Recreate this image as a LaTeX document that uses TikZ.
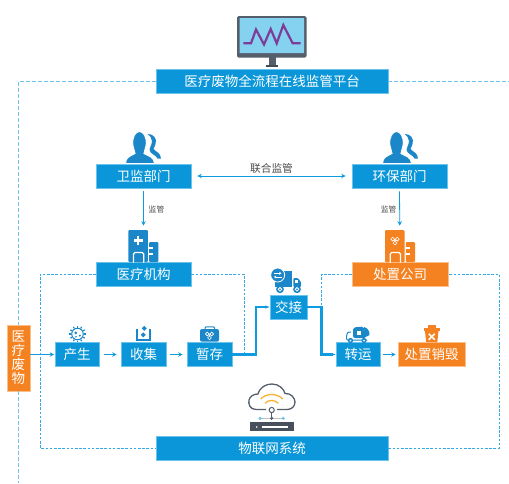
\documentclass[tikz,border=0pt]{standalone}
\usepackage{fontspec}
\setmainfont{Noto Sans CJK SC}
\usetikzlibrary{arrows.meta}
\definecolor{bluebox}{HTML}{0A96D8}
\definecolor{blueedge}{HTML}{6CC3EC}
\definecolor{orangebox}{HTML}{F58220}
\definecolor{orangeedge}{HTML}{FBBF8C}
\definecolor{iconblue}{HTML}{1B87C9}
\definecolor{linkblue}{HTML}{0F9BE0}
\definecolor{dashblue}{HTML}{6CC3EC}
\definecolor{slate}{HTML}{555E6B}
\definecolor{screenblue}{HTML}{84D2F0}
\definecolor{plotpurple}{HTML}{7D3C98}
\definecolor{wifi}{HTML}{F9B233}
\tikzset{
  bluen/.style={draw=blueedge,fill=bluebox,line width=.6pt,text=white,font=\fontsize{13.5}{14}\selectfont,inner sep=0pt,anchor=center},
  orangen/.style={bluen,draw=orangeedge,fill=orangebox},
  link/.style={draw=linkblue,line width=.8pt,-{Stealth[length=4.5pt,width=4.5pt]}},
  duallink/.style={draw=linkblue,line width=.8pt,{Stealth[length=4.5pt,width=4.5pt]}-{Stealth[length=4.5pt,width=4.5pt]}},
  thicklink/.style={draw=linkblue,line width=2.2pt,-{Stealth[length=4.5pt,width=3pt]}},
  dashin/.style={draw=linkblue!85,line width=.7pt,dash pattern=on 2.6pt off 1.6pt},
  dashout/.style={draw=dashblue,line width=1pt,dash pattern=on 4pt off 2pt},
  lab/.style={text=black!70,inner sep=0pt}
}
\newcommand{\personicon}[2]{\begin{scope}[shift={(#1,#2)}]
  \fill[iconblue] (22,2) .. controls (28,1.5) and (32,7) .. (30,12) .. controls (29.5,15) and (28,16) .. (28,17) .. controls (30,19.5) and (35.5,21) .. (35.5,26.5) -- (32,26.5) .. controls (31,23) and (24,22) .. (24,17.5) .. controls (24,15) and (26.5,13) .. (26.5,9) .. controls (26.5,6) and (24.5,4) .. (22,2) -- cycle;
  \path[fill=iconblue,draw=white,line width=1pt] (0,31.5) .. controls (0,25) and (5,24) .. (9.5,21.5) .. controls (9,19) and (8,16) .. (7.3,13) .. controls (6.5,5) and (10,-.5) .. (14,-.5) .. controls (18,-.5) and (21.5,5) .. (20.7,13) .. controls (20,16) and (19,19) .. (18.5,21.5) .. controls (23,24) and (29,25) .. (29,31.5) -- cycle;
\end{scope}}
\newcommand{\buildingicon}[3]{\begin{scope}[shift={(#1,#2)}]
  \fill[#3,rounded corners=1pt] (0,0) rectangle (19.5,32);
  \fill[#3,rounded corners=1pt] (20.8,12) rectangle (30,32);
  \draw[white,line width=1.3pt,rounded corners=1.5pt] (5.2,32.5) -- (5.2,22.5) -- (15.4,22.5) -- (15.4,32.5);
  \fill[white] (25,17.3) rectangle (20.8,18.8);
  \fill[white] (25,23.3) rectangle (20.8,24.8);
\end{scope}}
\newcommand{\biosym}[3]{\begin{scope}[shift={(#1,#2)}]
  \foreach \a in {90,210,330}{\draw[#3,line width=.6pt] (\a:2.6) circle (1.9);}
  \fill[#3] (0,0) circle (.9);
\end{scope}}
\begin{document}
\begin{tikzpicture}[x=1pt,y=-1pt]
\useasboundingbox (0,0) rectangle (509,483);
\clip (0,0) rectangle (509,483);
% coordinates
\coordinate (outerright) at (509,81);
\coordinate (outerbottom) at (18.5,483);
\coordinate (leftturn) at (40,448);
\coordinate (rightturn) at (499,448);
\coordinate (hospend) at (244,354.5);
\coordinate (compend) at (321.5,307);
\coordinate (storeturn) at (256,354.5);
\coordinate (swapturn) at (321.5,307);
% nodes
\node[bluen,minimum width=232pt,minimum height=24pt] (platform) at (272,81) {医疗废物全流程在线监管平台};
\node[bluen,minimum width=95pt,minimum height=24pt] (health) at (143.5,176) {卫监部门};
\node[bluen,minimum width=95pt,minimum height=24pt] (env) at (399.5,176) {环保部门};
\node[bluen,minimum width=95pt,minimum height=24pt] (hospital) at (143.5,274) {医疗机构};
\node[orangen,minimum width=96pt,minimum height=24pt] (company) at (400,274) {处置公司};
\node[orangen,minimum width=23pt,minimum height=66pt,align=center,font=\fontsize{13.5}{14}\selectfont] (waste) at (18.5,358) {医\\疗\\废\\物};
\node[bluen,minimum width=44pt,minimum height=23.5pt] (produce) at (77,354.5) {产生};
\node[bluen,minimum width=45pt,minimum height=23.5pt] (collect) at (143.5,354.5) {收集};
\node[bluen,minimum width=45pt,minimum height=23.5pt] (store) at (209.5,354.5) {暂存};
\node[bluen,minimum width=37pt,minimum height=24pt] (swap) at (288.5,307) {交接};
\node[bluen,minimum width=44pt,minimum height=23.5pt] (ship) at (358,354.5) {转运};
\node[orangen,minimum width=67pt,minimum height=23.5pt] (destroy) at (431.5,354.5) {处置销毁};
\node[bluen,minimum width=232pt,minimum height=24pt] (iot) at (272,448) {物联网系统};
% outer dashed
\draw[dashout] (platform.west) -| (waste.north);
\draw[dashout] (waste.south) -- (outerbottom);
\draw[dashout] (platform.east) -- (outerright);
% inner dashed
\draw[dashin] (hospital.west) -| (leftturn) -- (iot.west);
\draw[dashin] (hospital.east) -| (hospend);
\draw[dashin] (company.west) -| (compend);
\draw[dashin] (iot.east) -- (rightturn) |- (company.east);
% links
\draw[duallink,shorten <=6pt,shorten >=6pt] (health.east) -- (env.west) node[midway,yshift=8pt,lab,font=\fontsize{10.7}{11}\selectfont] (joint) {联合监管};
\draw[link,shorten <=3pt,shorten >=36pt] (health.south) -- (hospital.north) node[pos=.29,xshift=13pt,lab,font=\fontsize{7.8}{8}\selectfont] (sup1) {监管};
\draw[link,shorten <=3pt,shorten >=36pt] (env.south) -- (company.north) node[pos=.29,xshift=-11pt,lab,font=\fontsize{7.8}{8}\selectfont] (sup2) {监管};
\draw[link,shorten >=.5pt] (waste.east |- produce.west) -- (produce.west);
\draw[link,shorten <=5pt,shorten >=4pt] (produce.east) -- (collect.west);
\draw[link,shorten <=4pt,shorten >=4pt] (collect.east) -- (store.west);
\draw[link,shorten <=3pt,shorten >=2pt] (ship.east) -- (destroy.west);
\draw[thicklink] (store.east) -- (storeturn) |- (swap.west);
\draw[thicklink] (swap.east) -- (swapturn) |- (ship.west);
% monitor
\fill[slate,rounded corners=1.5pt] (237,16) rectangle (306.5,57.5);
\fill[screenblue,rounded corners=.5pt] (239.5,18) rectangle (304,53);
\fill[slate] (268.5,57) rectangle (276,65);
\fill[slate!80!black] (266,65) rectangle (278,67);
\draw[plotpurple,line width=2.2pt,line join=miter] (243.3,43.3) -- (251,43.3) -- (256,29.5) -- (264,44.5) -- (270.7,29) -- (276.7,43.3) -- (283.3,25) -- (292.7,43.3) -- (300.7,43.3);
% people
\personicon{125.5}{132}
\personicon{382.5}{132}
% buildings
\buildingicon{128.3}{230}{iconblue}
\buildingicon{385}{230}{orangebox}
\fill[white] (136.8,236) rectangle (139.3,245);
\fill[white] (133.5,239.3) rectangle (142.5,241.8);
\biosym{395}{240.5}{white}
% virus
\begin{scope}[shift={(77.5,334)}]
  \draw[iconblue,line width=1pt] (0,0) circle (5.8);
  \foreach \a in {0,30,...,330}{\draw[iconblue,line width=1.2pt] (\a:6.5) -- (\a:8.2);}
  \fill[iconblue] (-1.8,-1.2) circle (1.5);
  \fill[iconblue] (2.3,1.6) circle (1.1);
  \fill[iconblue] (-1.5,2.8) circle (.9);
\end{scope}
% tray
\draw[iconblue,line width=1.8pt] (137,329) -- (137,340) -- (150,340) -- (150,329);
\fill[iconblue] (144.3,325.8) -- (146.8,328.3) -- (144.3,330.8) -- (141.8,328.3) -- cycle;
\fill[iconblue] (143.3,332.3) -- (145.8,334.8) -- (143.3,337.3) -- (140.8,334.8) -- cycle;
% case
\draw[iconblue,line width=1pt,rounded corners=1pt] (205,330) -- (205,326.8) -- (214.5,326.8) -- (214.5,330);
\fill[iconblue,rounded corners=2pt] (200,329) rectangle (219,341.7);
\biosym{209.5}{335.3}{white}
% truck
\fill[iconblue] (275,270.5) rectangle (292.3,286.7);
\fill[iconblue,rounded corners=1pt] (293.3,278) -- (298,278) -- (301,282) -- (301,287) -- (293.3,287) -- cycle;
\fill[white] (295,279.5) rectangle (298,282.5);
\foreach \p in {280,297}{\fill[iconblue] (\p,289.3) circle (3.9); \draw[white,line width=.8pt] (\p,289.3) circle (1.8);}
\fill[iconblue,draw=white,line width=.8pt] (277.7,275) circle (7);
\draw[white,line width=.9pt,-{Stealth[length=2.3pt,width=3pt]}] (274,273.3) -- (281.5,273.3);
\draw[white,line width=.9pt,-{Stealth[length=2.3pt,width=3pt]}] (281.5,277) -- (274,277);
% garbage truck
\fill[iconblue,rounded corners=2pt] (353,327.5) -- (364,326.5) -- (366,338) -- (353,338) -- cycle;
\fill[iconblue] (364,327) .. controls (368,328) and (370,332) .. (369.5,335) .. controls (368,336) and (366,337) .. (365,337) -- cycle;
\draw[iconblue,line width=1pt,rounded corners=1pt] (351,332) -- (348,332) -- (346.5,335.5) -- (346.5,340) -- (367,340);
\fill[white] (357,330.5) rectangle (361,334.5);
\foreach \p in {350.5,364}{\fill[iconblue] (\p,340.5) circle (2.6); \fill[white] (\p,340.5) circle (1);}
% trash
\fill[orangebox] (428,325.3) rectangle (436,328.5);
\fill[orangebox] (423.5,327.5) rectangle (440,331);
\fill[orangebox] (425,331) -- (438.5,331) -- (437.3,342.2) -- (426.2,342.2) -- cycle;
\draw[white,line width=1.6pt] (428.7,333.8) -- (434.7,339.8) (434.7,333.8) -- (428.7,339.8);
% cloud
\draw[black!25,line width=.8pt] (260,418.3) -- (283.3,418.3);
\draw[slate,line width=.8pt] (271.7,412) -- (271.7,418.3);
\draw[slate,line width=1.3pt,line join=round] (266,409.5) -- (256,409.5) .. controls (250,409.5) and (248,404) .. (249,400) .. controls (250,396) and (254,394) .. (258,394) .. controls (260,387) and (266,384) .. (272,384) .. controls (279,384) and (284,389) .. (285,393.5) .. controls (291,393) and (295,398) .. (295,402) .. controls (295,406) and (292,409.5) .. (287,409.5) -- (277,409.5);
\draw[wifi,line width=1.3pt] (260.7,399) .. controls (266,393) and (277,393) .. (282.7,399);
\draw[wifi,line width=1.3pt] (265,403.3) .. controls (268,399.5) and (275,399.5) .. (278.3,403.3);
\draw[slate,fill=white,line width=1pt] (271.7,410) circle (2.6);
\fill[blueedge] (260,418.3) circle (1.7);
\fill[slate] (271.7,418.3) circle (1.7);
\fill[blueedge] (283.3,418.3) circle (1.7);
\fill[slate!85!black] (250,422.3) rectangle (294,430.7);
\fill[white] (256.7,427) circle (.9);
\fill[white] (261.7,425.5) rectangle (287.7,428);
\end{tikzpicture}
\end{document}
